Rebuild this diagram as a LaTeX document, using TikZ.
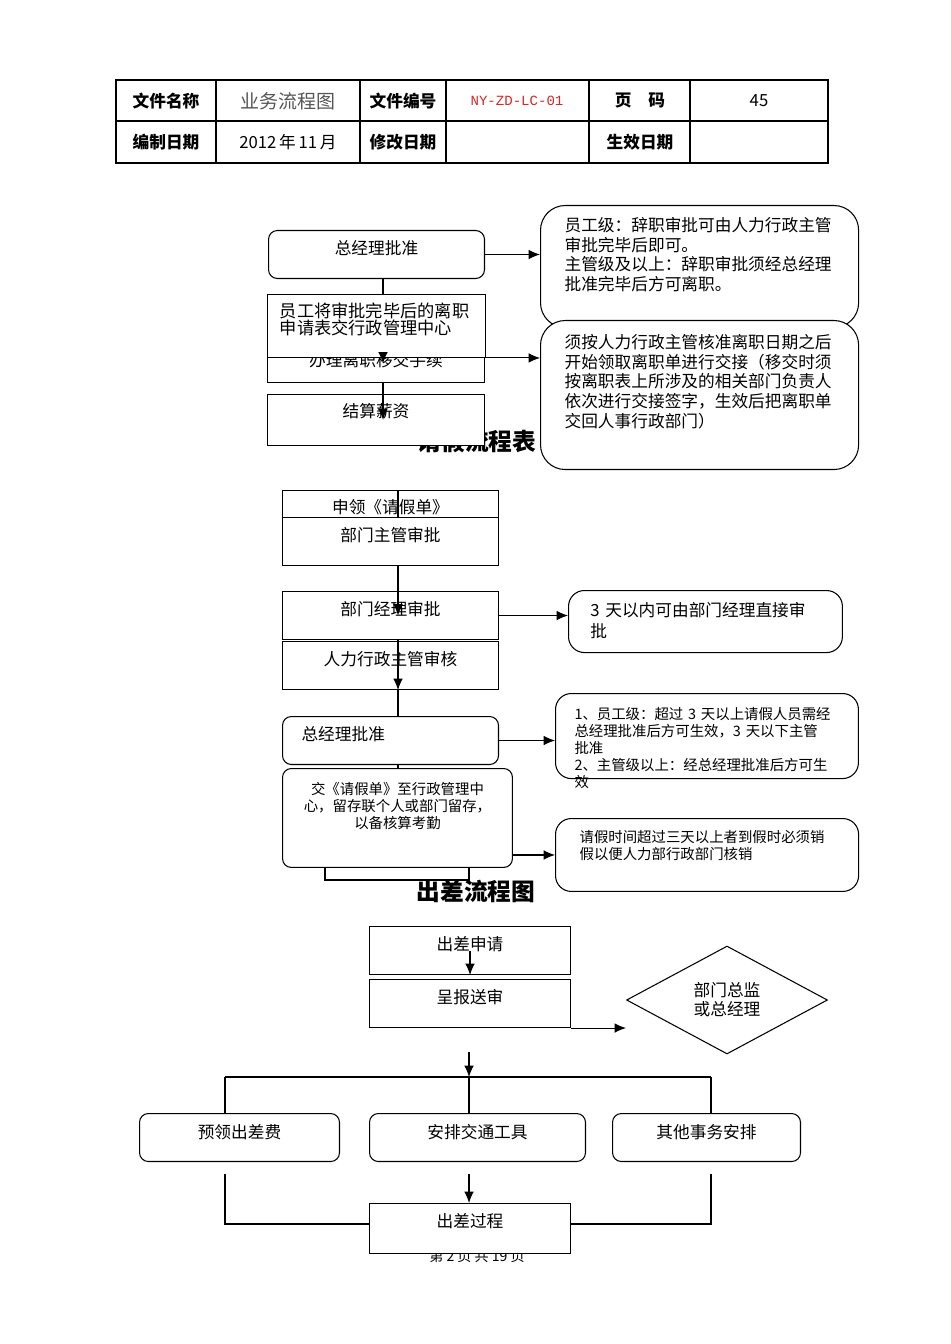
\documentclass[tikz,border=0pt]{standalone}
\usepackage{fontspec}
\setmainfont{Noto Sans CJK SC}
\newfontfamily\codefont{Liberation Mono}
\usetikzlibrary{arrows.meta,shapes.geometric,calc}

\definecolor{codered}{RGB}{214,38,38}
\definecolor{titlegray}{RGB}{85,85,85}

\tikzset{%
  flow box/.style={
    rectangle,
    draw,
    fill=white,
    minimum width=4.32cm,
    inner xsep=2pt,
    inner ysep=5.4pt,
    text height=8pt,
    text depth=8.5pt,
    align=center,
    font=\fontsize{9.5}{11}\selectfont
  },
  flow round/.style={
    flow box,
    rounded corners=5pt
  },
  note box/.style={
    rectangle,
    draw,
    fill=white,
    rounded corners=14pt,
    align=left,
    inner xsep=13.7pt,
    text height=8pt,
    font=\fontsize{9.5}{11.2}\selectfont
  },
  note small/.style={
    note box,
    rounded corners=9pt,
    font=\fontsize{8.2}{9.7}\selectfont
  },
  head cell/.style={
    font=\bfseries\fontsize{9.5}{11}\selectfont
  },
  flow title/.style={
    font=\bfseries\fontsize{13.5}{16}\selectfont
  },
}

\begin{document}
\begin{tikzpicture}[x=0.02cm, y=-0.02cm, line width=0.6pt,
  >={Latex[length=6.5pt,width=5.5pt]}]
\useasboundingbox (0,0) rectangle (950,1344);

% header
\draw[line width=1.3pt] (116,80) rectangle (828,163);
\draw (116,121) -- (828,121);
\foreach \x in {216,360,446,589,690}
  \draw (\x,80) -- (\x,163);
\node[head cell] (hname) at (166,101) {文件名称};
\node[font=\fontsize{10.8}{12}\selectfont, text=titlegray] (hdoc) at (288,101) {业务流程图};
\node[head cell] (hnum) at (403,101) {文件编号};
\node[font=\codefont\fontsize{8}{10}\selectfont, text=codered] (hcode) at (517,101) {NY-ZD-LC-01};
\node[head cell] (hpage) at (640,101) {页\hspace{1em}码};
\node[font=\fontsize{9.5}{11}\selectfont] (hpno) at (759,101) {45};
\node[head cell] (hdate) at (166,142) {编制日期};
\node[font=\fontsize{9.5}{11}\selectfont] (hdatev) at (288,142) {2012\,年\,11\,月};
\node[head cell] (hmod) at (403,142) {修改日期};
\node[head cell] (heff) at (640,142) {生效日期};

% resignation
\coordinate (sp1) at (383,0);
\node[flow title] (qjtitle) at (477,441) {请假流程表};
\node[flow round, anchor=north west] (zjl1) at (268,230) {总经理批准};
\node[note box, anchor=north west, text width=5.4cm, inner ysep=6.8pt, text depth=47.8pt] (note1) at (540,205)
  {员工级：辞职审批可由人力行政主管\\审批完毕后即可。\\主管级及以上：辞职审批须经总经理\\批准完毕后方可离职。};
\node[note box, anchor=north west, text width=5.4cm, inner ysep=7.9pt, text depth=61pt] (note2) at (540,320)
  {须按人力行政主管核准离职日期之后\\开始领取离职单进行交接（移交时须\\按离职表上所涉及的相关部门负责人\\依次进行交接签字，生效后把离职单\\交回人事行政部门）};
\node[flow box, anchor=north west, minimum width=4.34cm, inner ysep=4.5pt, text depth=4.6pt] (blz) at (267,344) {办理离职移交手续};
\node[flow box, anchor=north west, align=left, text width=3.86cm, inner xsep=7pt, inner ysep=5.1pt, text depth=17.6pt,
  font=\fontsize{9.8}{9.5}\selectfont] (ydoc) at (267,294) {员工将审批完毕后的离职\\申请表交行政管理中心};
\node[flow box, anchor=north west, minimum width=4.34cm, inner ysep=4.8pt, text depth=11.4pt] (jsxz) at (267,394) {结算薪资};

\draw (zjl1.south -| sp1) -- (ydoc.north -| sp1);
\draw[->] (ydoc.south -| sp1) -- (blz.center -| sp1);
\draw (blz.south -| sp1) -- (jsxz.north -| sp1);
\draw[->] (jsxz.north -| sp1) -- (jsxz.center -| sp1);
\draw[->] (zjl1.east) -- (zjl1.east -| note1.west);
\draw[->] (ydoc.south west) -- (ydoc.south west -| note2.west);

% leave
\coordinate (sp2) at (398,0);
\node[flow box, anchor=north west, inner ysep=1pt, text height=12pt, text depth=1.4pt] (sldj) at (282,490) {申领《请假单》};
\node[flow box, anchor=north west] (bmzg) at (282,517) {部门主管审批};
\node[flow box, anchor=north west] (bmjl) at (282,591) {部门经理审批};
\node[flow box, anchor=north west] (rlxz) at (282,641) {人力行政主管审核};
\node[flow round, anchor=north west, align=left, text width=3.56cm, inner xsep=10.8pt] (zjl2) at (282,716) {总经理批准};
\node[flow round, anchor=north west, text width=3.84cm, inner xsep=10.8pt, inner ysep=6.5pt, text depth=35.3pt,
  font=\fontsize{8.2}{9.7}\selectfont] (jqd) at (282,768) {交《请假单》至行政管理中\\心，留存联个人或部门留存，\\以备核算考勤};
\node[note box, anchor=north west, rounded corners=9pt, text width=4.6cm, inner xsep=12.5pt, inner ysep=6.5pt, text depth=14.3pt,
  font=\fontsize{9.5}{12}\selectfont] (n3d) at (568,590) {3~天以内可由部门经理直接审\\批};
\node[note small, anchor=north west, text width=5.3cm, inner xsep=10.8pt, inner ysep=6.8pt, text depth=26.8pt] (nl1) at (555,693)
  {1、员工级：超过~3~天以上请假人员需经\\总经理批准后方可生效，3~天以下主管\\批准\\2、主管级以上：经总经理批准后方可生\\效};
\node[note small, anchor=north west, text width=5.1cm, inner ysep=5.7pt, text depth=22.1pt] (nl2) at (555,818)
  {请假时间超过三天以上者到假时必须销\\假以便人力部行政部门核销};

\draw (sldj.north -| sp2) -- (sldj.south -| sp2);
\draw[->] (bmzg.south -| sp2) -- (bmjl.center -| sp2);
\draw[->] (bmjl.south -| sp2) -- (rlxz.south -| sp2);
\draw (rlxz.south -| sp2) -- (zjl2.north -| sp2);
\draw (zjl2.south -| sp2) -- (jqd.north -| sp2);
\draw[->] (bmjl.east) -- (bmjl.east -| n3d.west);
\draw[->] (zjl2.east) -- (zjl2.east -| nl1.west);
\draw[->] (nl2.west -| jqd.east) -- (nl2.west);
\coordinate (ul) at (325,880);
\coordinate (ur) at (469,880);
\draw (jqd.south -| ul) -- (ul) -- (ur) -- (jqd.south -| ur);

% business trip
\node[flow title] (cctitle) at (476,891) {出差流程图};
\node[flow box, anchor=north west, minimum width=4.02cm] (ccsq) at (369,926) {出差申请};
\node[flow box, anchor=north west, minimum width=4.02cm] (cbss) at (369,979) {呈报送审};
\node[diamond, draw, aspect=2, inner sep=0pt, minimum width=4.02cm, minimum height=2.16cm, align=center,
  font=\fontsize{9.5}{10.8}\selectfont] (dia) at (727,1000) {部门总监\\或总经理};
\node[flow round, anchor=north west, minimum width=4cm, inner ysep=6.4pt, text depth=6.5pt] (ylcc) at (139,1113) {预领出差费};
\node[flow round, anchor=north west, minimum width=4.32cm, inner ysep=6.4pt, text depth=6.5pt] (apjt) at (369,1113) {安排交通工具};
\node[flow round, anchor=north west, minimum width=3.76cm, inner ysep=6.4pt, text depth=6.5pt] (qtsw) at (612,1113) {其他事务安排};
\node[font=\fontsize{8}{9}\selectfont] (foot) at (477,1256) {第 2 页 共 19 页};
\node[flow box, anchor=north west, minimum width=4.02cm, text depth=9.6pt] (ccgc) at (369,1203) {出差过程};

\coordinate (fork) at (469,1077);
\coordinate (forkl) at (225,1077);
\coordinate (forkr) at (711,1077);
\coordinate (joinl) at (225,1224);
\coordinate (joinr) at (711,1224);
\draw[->] (ccsq.center) -- (ccsq.south);
\draw[->] (cbss.south east) -- (cbss.south east -| dia.west);
\draw[->] ($(cbss.south -| fork)+(0,24)$) -- (fork);
\draw (forkl) -- (forkr);
\draw (forkl) -- (forkl |- ylcc.north);
\draw (fork) -- (fork |- apjt.north);
\draw (forkr) -- (forkr |- qtsw.north);
\draw ($(ylcc.south -| joinl)+(0,12)$) -- (joinl) -- (joinl -| ccgc.west);
\draw ($(qtsw.south -| joinr)+(0,12)$) -- (joinr) -- (joinr -| ccgc.east);
\draw[->] ($(apjt.south -| fork)+(0,12)$) -- (ccgc.north -| fork);
\end{tikzpicture}
\end{document}
